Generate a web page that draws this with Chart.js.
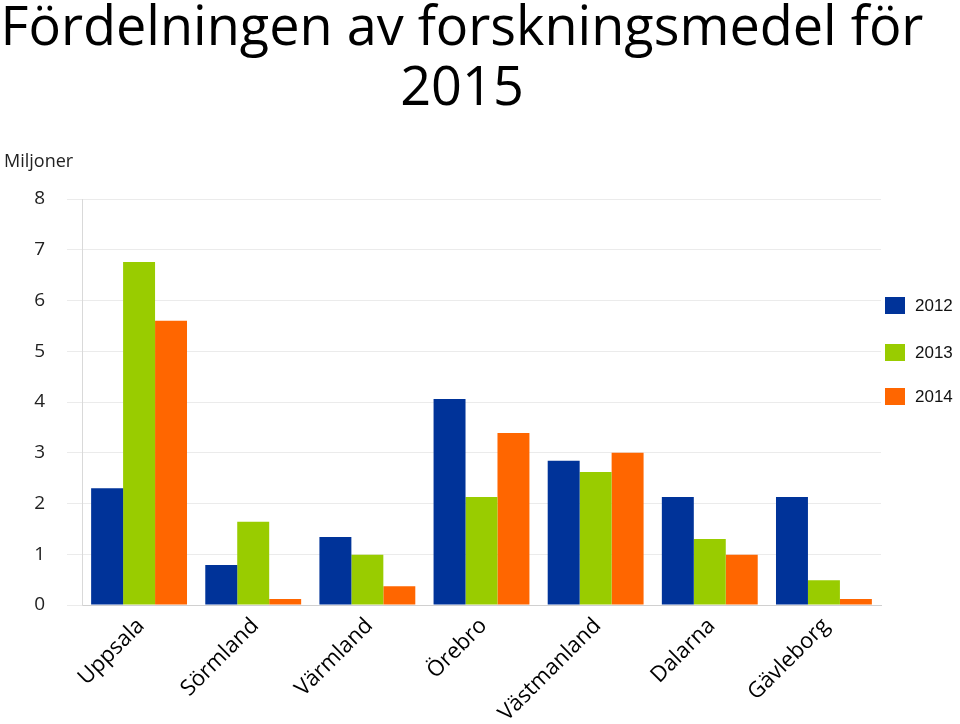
<!DOCTYPE html>
<html>
<head>
<meta charset="utf-8">
<script src="https://cdn.jsdelivr.net/npm/chart.js@4"></script>
<style>
  html, body { margin: 0; padding: 0; background: #fff; }
  #wrap { position: relative; width: 960px; height: 724px; }
</style>
</head>
<body>
<div id="wrap"><canvas id="chart" width="960" height="724"></canvas></div>
<script>
// 데이터
const categories = ['Uppsala', 'Sörmland', 'Värmland', 'Örebro', 'Västmanland', 'Dalarna', 'Gävleborg'];
const seriesNames = ['2012', '2013', '2014'];
const values2012 = [2.3, 0.79, 1.34, 4.06, 2.84, 2.13, 2.13];
const values2013 = [6.76, 1.64, 0.99, 2.13, 2.62, 1.3, 0.49];
const values2014 = [5.6, 0.12, 0.37, 3.39, 3.0, 0.99, 0.12];
const yTicks = [0, 1, 2, 3, 4, 5, 6, 7, 8];
const colors = ['#003399', '#99cc00', '#ff6600'];

const titleLines = ['Fördelningen av forskningsmedel för', '2015'];
const unitLabel = 'Miljoner';

// 제목, 단위, 범례 그리기
const decorPlugin = {
    id: 'decor',
    afterDraw(chart) {
        const ctx = chart.ctx;
        ctx.save();
        ctx.fillStyle = '#000';
        ctx.textAlign = 'center';
        ctx.textBaseline = 'alphabetic';
        ctx.font = '54px "Open Sans", sans-serif';
        ctx.fillText(titleLines[0], 462, 45);
        ctx.fillText(titleLines[1], 462, 105);

        ctx.textAlign = 'left';
        ctx.font = '18px "Open Sans", sans-serif';
        ctx.fillStyle = '#222';
        ctx.fillText(unitLabel, 4, 167);

        // 범례
        const legendY = [305, 352, 396];
        ctx.font = '17px "Liberation Sans", Arial, sans-serif';
        ctx.textBaseline = 'middle';
        seriesNames.forEach((name, i) => {
            ctx.fillStyle = colors[i];
            ctx.fillRect(885, legendY[i] - 8, 20, 17);
            ctx.fillStyle = '#111';
            ctx.fillText(name, 915, legendY[i] + 1);
        });
        ctx.restore();
    }
};

const datasets = [values2012, values2013, values2014].map((data, i) => ({
    label: seriesNames[i],
    data: data,
    backgroundColor: colors[i],
    borderWidth: 0,
    categoryPercentage: 0.84,
    barPercentage: 1.0
}));

new Chart(document.getElementById('chart'), {
    type: 'bar',
    data: { labels: categories, datasets: datasets },
    plugins: [decorPlugin],
    options: {
        responsive: false,
        animation: false,
        layout: { padding: { left: 0, right: 79, top: 199, bottom: 0 } },
        plugins: {
            legend: { display: false },
            tooltip: { enabled: false }
        },
        scales: {
            x: {
                afterFit(scale) { scale.height = 119; },
                grid: { display: false },
                border: { color: '#d0d0d0' },
                ticks: {
                    minRotation: 45,
                    maxRotation: 45,
                    padding: 0,
                    labelOffset: 2,
                    color: '#000',
                    font: { size: 22, family: '"Open Sans", sans-serif' }
                }
            },
            y: {
                min: 0,
                max: 8,
                afterFit(scale) { scale.width = 82; },
                afterBuildTicks(scale) { scale.ticks = yTicks.map(v => ({ value: v })); },
                grid: { color: '#ebebeb', tickLength: 15 },
                border: { color: '#d9d9d9' },
                ticks: {
                    padding: 22,
                    color: '#222',
                    font: { size: 19, family: '"Open Sans", sans-serif' }
                }
            }
        }
    }
});
</script>
</body>
</html>
